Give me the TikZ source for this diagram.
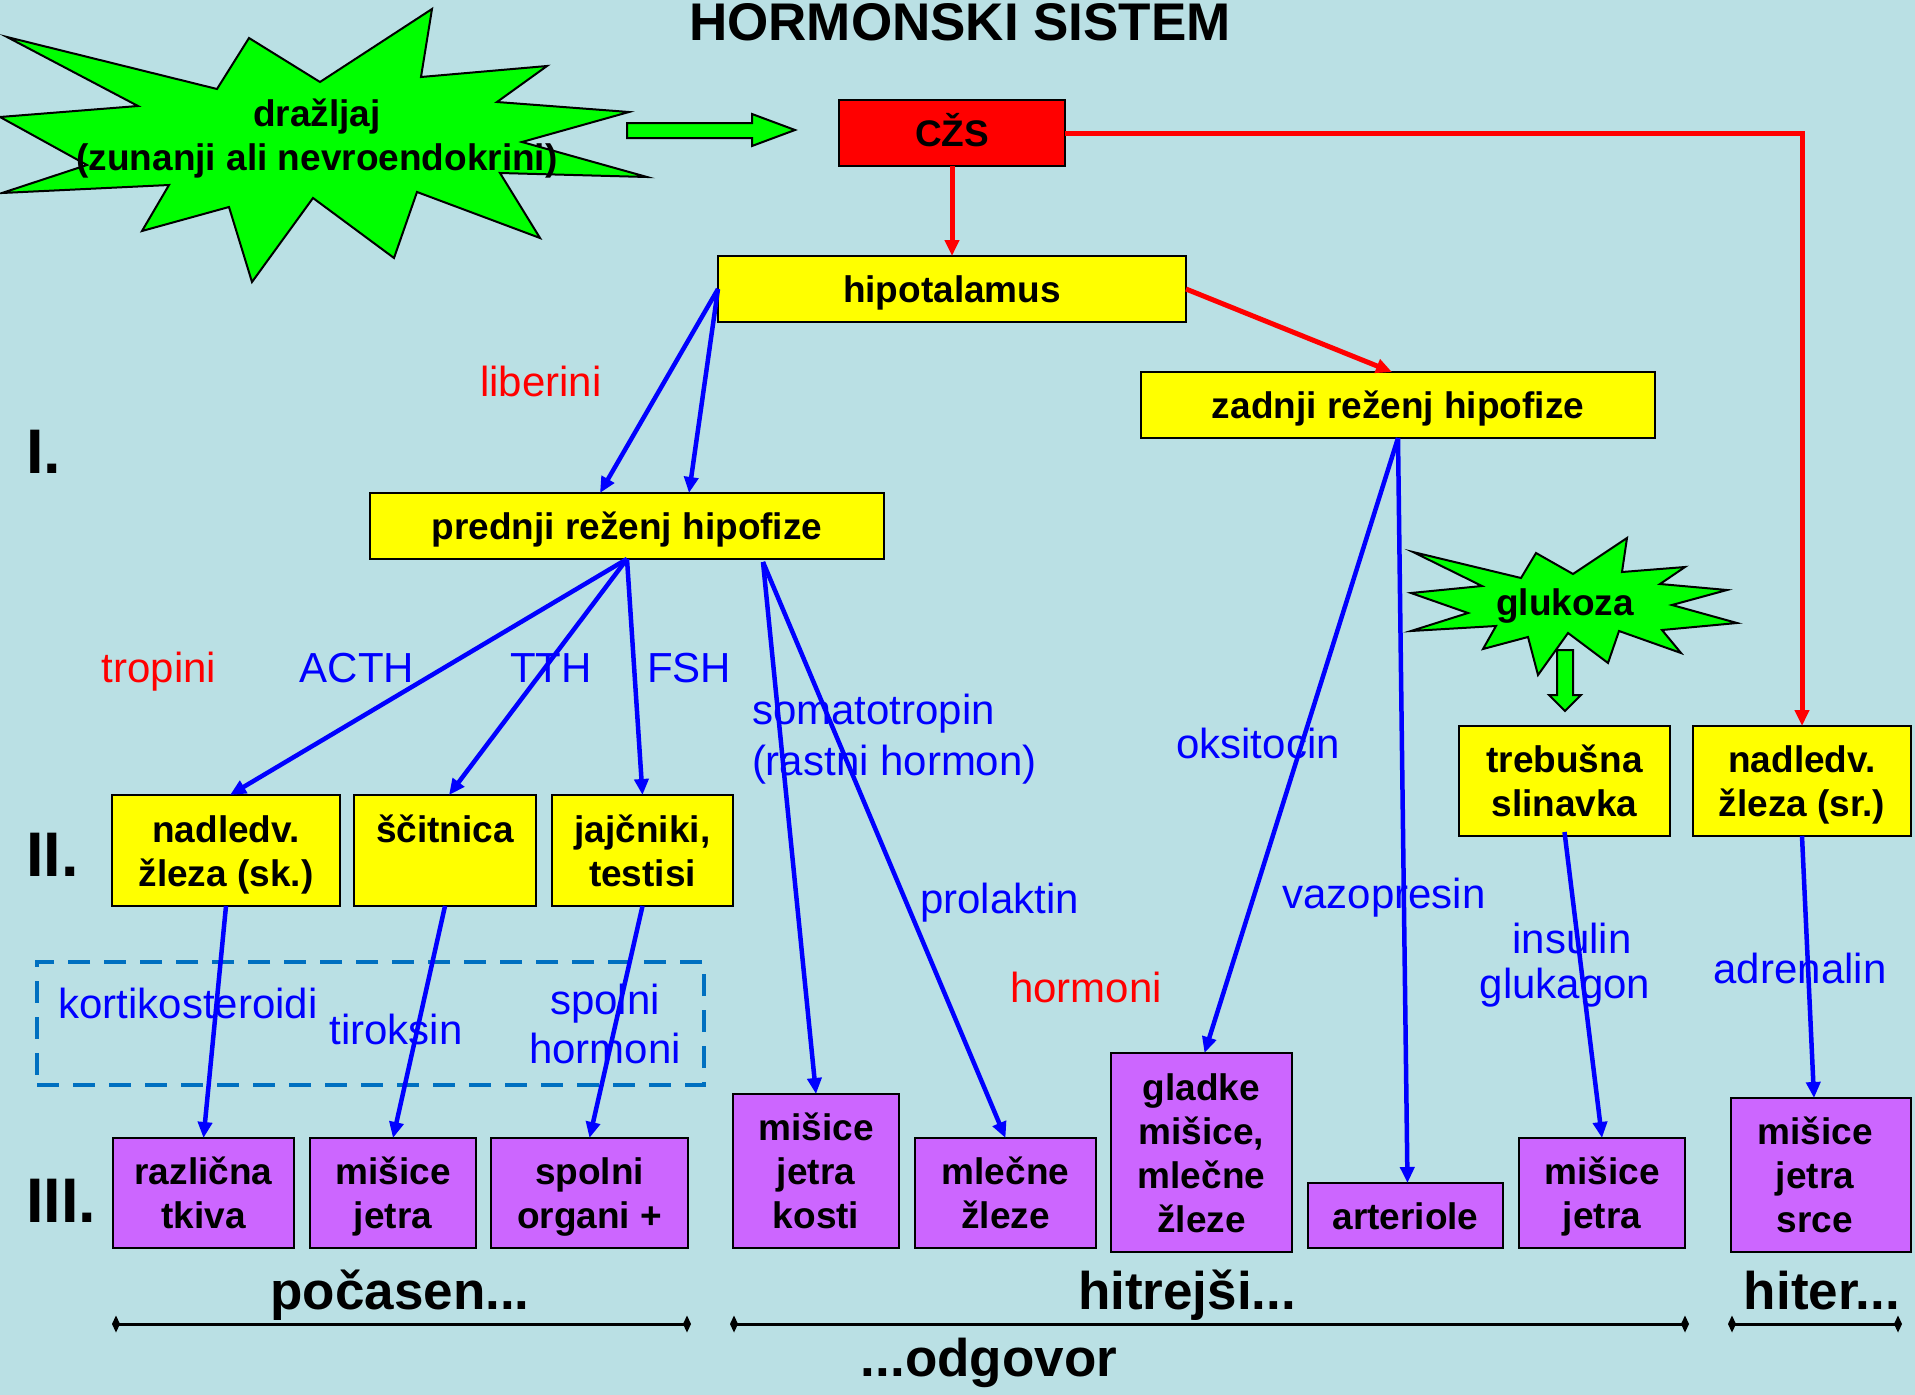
\documentclass[tikz,border=0pt]{standalone}
\usepackage{fontspec}
\setmainfont{Liberation Sans}
\usetikzlibrary{arrows.meta,calc}
\definecolor{bg}{RGB}{186,224,228}
\definecolor{boxyellow}{RGB}{255,255,0}
\definecolor{boxpurple}{RGB}{204,102,255}
\definecolor{stargreen}{RGB}{0,255,0}
\definecolor{dashblue}{RGB}{0,112,192}
\definecolor{lblblue}{RGB}{0,0,255}
\definecolor{lblred}{RGB}{255,0,0}
\newcommand\boxfont{\bfseries\fontsize{37}{44}\selectfont}
\newcommand\lblfont{\fontsize{42}{51}\selectfont}
\newcommand\romfont{\bfseries\fontsize{63}{70}\selectfont}
\newcommand\bigfont{\bfseries\fontsize{53}{60}\selectfont}
\newcommand\bs{\rule[-0.2em]{0pt}{1.15em}}
\begin{document}
\begin{tikzpicture}[x=1pt,y=-1pt,
  every node/.style={inner sep=0pt, outer sep=0pt},
  boxtext/.style={align=center, font=\boxfont},
  box/.style={boxtext, draw=black, line width=2.5pt},
  ybox/.style={box, fill=boxyellow},
  pbox/.style={box, fill=boxpurple},
  lbl/.style={font=\lblfont, text height=30pt, text depth=0pt},
  bluelbl/.style={lbl, text=lblblue},
  redlbl/.style={lbl, text=lblred},
  mlbl/.style={text=lblblue, align=center},
  romlbl/.style={font=\romfont, text height=45pt, text depth=0pt, anchor=west},
  botlbl/.style={font=\bigfont, anchor=base},
  barrow/.style={draw=lblblue, line width=4.5pt, -{Triangle[length=16pt,width=14pt]}},
  rarrow/.style={draw=lblred, line width=5pt, -{Triangle[length=16pt,width=14pt]}},
  starshape/.style={fill=stargreen, draw=black, line width=2pt, line join=miter},
  blockarrow/.style={fill=stargreen, draw=black, line width=2pt, line join=miter},
  scaleline/.style={draw=black, line width=3pt, {Diamond[length=8pt,width=17pt]}-{Diamond[length=8pt,width=17pt]}},
]
\useasboundingbox (0,0) rectangle (1915,1395);
\fill[bg] (0,0) rectangle (1915,1395);

% title
\node[font=\bigfont, anchor=base] (title) at (960,40) {HORMONSKI SISTEM};

% stimulus starburst
\draw[starshape] (7,37) -- (217,89) -- (249,38) -- (320,82) -- (432,9) -- (421,77) -- (547,66) -- (497,102)
  -- (629,112) -- (522,142) -- (647,177) -- (500,173) -- (540,238) -- (417,192) -- (394,258) -- (313,198)
  -- (252,282) -- (229,207) -- (142,231) -- (169,185) -- (2,193) -- (87,165) -- (0,117) -- (138,106) -- cycle;
\node[boxtext] (draz) at (317,135) {\bs dražljaj\\(zunanji ali nevroendokrini)\bs};

% green block arrow
\draw[blockarrow] (627,123) -- (752,123) -- (752,114) -- (795,130) -- (752,146) -- (752,138) -- (627,138) -- cycle;

% glukoza starburst
\draw[starshape] (1413,552) -- (1521,578) -- (1536,553) -- (1573,574) -- (1627,538) -- (1622,572) -- (1685,567)
  -- (1660,584) -- (1727,590) -- (1672,605) -- (1737,623) -- (1662,630) -- (1681,653) -- (1619,631)
  -- (1608,663) -- (1568,633) -- (1538,675) -- (1528,637) -- (1483,649) -- (1496,626) -- (1411,631)
  -- (1468,613) -- (1411,593) -- (1482,586) -- cycle;
\node[boxtext] (gluk) at (1565,602) {\bs glukoza\bs};
\draw[blockarrow] (1557,650) -- (1573,650) -- (1573,695) -- (1581,695) -- (1565,711) -- (1549,695) -- (1557,695) -- cycle;

% boxes
\node[box, fill=lblred, minimum width=226pt, minimum height=66pt] (czs) at (952,133) {\bs CŽS\bs};
\node[ybox, minimum width=468pt, minimum height=66pt] (hyp) at (952,289) {\bs hipotalamus\bs};
\node[ybox, minimum width=514pt, minimum height=66pt] (pred) at (627,526) {\bs prednji reženj hipofize\bs};
\node[ybox, minimum width=514pt, minimum height=66pt] (zad) at (1398,405) {\bs zadnji reženj hipofize\bs};
\node[ybox, minimum width=228pt, minimum height=111pt] (nsk) at (226,850.5) {\bs nadledv.\\žleza (sk.)\bs};
\node[ybox, minimum width=182pt, minimum height=111pt] (scit) at (445,850.5) {\bs ščitnica\\\bs};
\node[ybox, minimum width=181pt, minimum height=111pt] (jaj) at (642.5,850.5) {\bs jajčniki,\\testisi\bs};
\node[ybox, minimum width=211pt, minimum height=110pt] (ntr) at (1564.5,781) {\bs trebušna\\slinavka\bs};
\node[ybox, minimum width=218pt, minimum height=110pt] (nsr) at (1802,781) {\bs nadledv.\\žleza (sr.)\bs};

\node[pbox, minimum width=181pt, minimum height=110pt] (raz) at (203.5,1193) {\bs različna\\tkiva\bs};
\node[pbox, minimum width=166pt, minimum height=110pt] (mj1) at (393,1193) {\bs mišice\\jetra\bs};
\node[pbox, minimum width=197pt, minimum height=110pt] (spo) at (589.5,1193) {\bs spolni\\organi +\bs};
\node[pbox, minimum width=166pt, minimum height=154pt] (mjk) at (816,1171) {\bs mišice\\jetra\\kosti\bs};
\node[pbox, minimum width=181pt, minimum height=110pt] (mle) at (1005.5,1193) {\bs mlečne\\žleze\bs};
\node[pbox, minimum width=181pt, minimum height=199pt] (gla) at (1201.5,1152.5) {\bs gladke\\mišice,\\mlečne\\žleze\bs};
\node[pbox, minimum width=195pt, minimum height=65pt] (art) at (1405.5,1215.5) {\bs arteriole\bs};
\node[pbox, minimum width=166pt, minimum height=110pt] (mj2) at (1602,1193) {\bs mišice\\jetra\bs};
\node[pbox, minimum width=180pt, minimum height=154pt] (mjs) at (1821,1175) {\bs mišice\kern12pt\\jetra\kern12pt\\srce\kern12pt\bs};

% dashed frame
\node[draw=dashblue, line width=4pt, dash pattern=on 22pt off 14pt, minimum width=667pt, minimum height=123pt] (frame) at (370.5,1023.5) {};

% red connectors
\draw[rarrow] (czs.south) -- (hyp.north);
\draw[rarrow] (hyp.east) -- ([xshift=-6pt]zad.north);
\draw[rarrow] (czs.east) -| (nsr.north);

% blue connectors
\draw[barrow] (hyp.west) -- ([xshift=-27pt]pred.north);
\draw[barrow] (hyp.west) -- ([xshift=62pt]pred.north);
\draw[barrow] (pred.south) -- ([xshift=4pt]nsk.north);
\draw[barrow] (pred.south) -- ([xshift=4pt]scit.north);
\draw[barrow] (pred.south) -- (jaj.north);
\draw[barrow] ([xshift=136pt,yshift=-3pt]pred.south) -- (mjk.north);
\draw[barrow] ([xshift=136pt,yshift=-3pt]pred.south) -- (mle.north);
\draw[barrow] (zad.south) -- ([xshift=3pt]gla.north);
\draw[barrow] (zad.south) -- ([xshift=2pt]art.north);
\draw[barrow] ([yshift=4pt]ntr.south) -- (mj2.north);
\draw[barrow] (nsr.south) -- ([xshift=-7pt]mjs.north);
\draw[barrow] (nsk.south) -- (raz.north);
\draw[barrow] (scit.south) -- (mj1.north);
\draw[barrow] (jaj.south) -- (spo.north);

% labels
\node[redlbl] (liberini) at (541,381) {liberini};
\node[redlbl] (tropini) at (159,667) {tropini};
\node[bluelbl] (acth) at (357,667) {ACTH};
\node[bluelbl] (tth) at (551,667) {TTH};
\node[bluelbl] (fsh) at (689,667) {FSH};
\node[mlbl, align=left, anchor=west, font={\fontsize{42}{51}\selectfont}] (soma) at (752,739) {somatotropin\\(rastni hormon)};
\node[bluelbl, anchor=west] (prol) at (920,898) {prolaktin};
\node[bluelbl] (oksi) at (1258,743) {oksitocin};
\node[bluelbl] (vazo) at (1384,893) {vazopresin};
\node[redlbl] (horm) at (1086,987) {hormoni};
\node[bluelbl] (insu) at (1572,938) {insulin};
\node[bluelbl] (gluka) at (1565,983) {glukagon};
\node[bluelbl] (adre) at (1800,968) {adrenalin};
\node[bluelbl] (kort) at (188,1003) {kortikosteroidi};
\node[bluelbl] (tiro) at (396,1029) {tiroksin};
\node[mlbl, font={\fontsize{42}{49}\selectfont}] (spho) at (605,1024) {spolni\\hormoni};

% roman numerals
\node[romlbl] (r1) at (26,451) {I.};
\node[romlbl] (r2) at (26,854) {II.};
\node[romlbl] (r3) at (26,1200) {III.};

% bottom scale
\node[botlbl] (poc) at (400,1309) {počasen...};
\node[botlbl] (hit) at (1187,1309) {hitrejši...};
\node[botlbl] (hiter) at (1822,1309) {hiter...};
\node[botlbl] (odg) at (989,1376) {...odgovor};
\coordinate (l1a) at (112,1324);
\coordinate (l1b) at (691,1324);
\coordinate (l2a) at (730,1324);
\coordinate (l2b) at (1689,1324);
\coordinate (l3a) at (1728,1324);
\coordinate (l3b) at (1902,1324);
\draw[scaleline] (l1a) -- (l1b);
\draw[scaleline] (l2a) -- (l2b);
\draw[scaleline] (l3a) -- (l3b);
\end{tikzpicture}
\end{document}
